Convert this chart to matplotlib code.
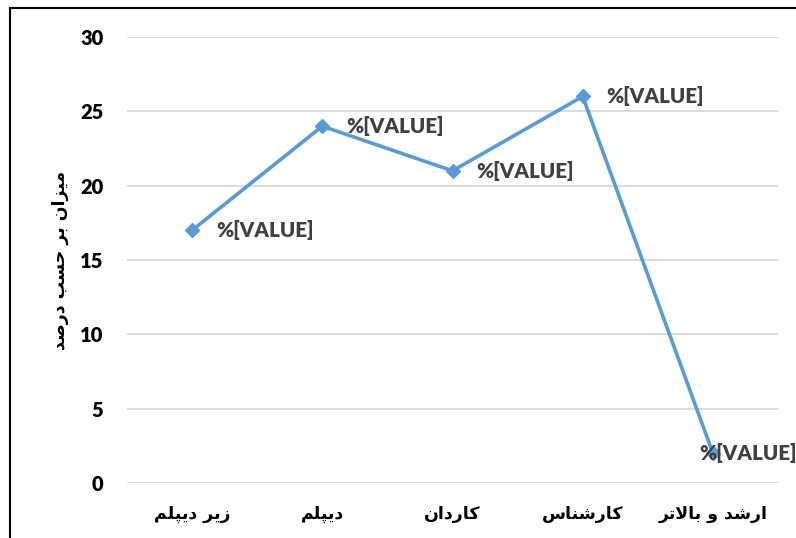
import matplotlib
matplotlib.use("Agg")
import matplotlib.pyplot as plt
from matplotlib.lines import Line2D

# ---------------- data ----------------
categories = ["زیر دیپلم", "دیپلم", "کاردان", "کارشناس", "ارشد و بالاتر"]
values = [17, 24, 21, 26, 2]
y_ticks = [0, 5, 10, 15, 20, 25, 30]
y_label = "میزان بر حسب درصد"
point_label = "%[VALUE]"

# ------------- simple Persian shaping (presentation forms + RTL) -------------
FORMS = {  # iso, fin, ini, med
    'ا': ('\uFE8D', '\uFE8E', None, None),
    'ب': ('\uFE8F', '\uFE90', '\uFE91', '\uFE92'),
    'ت': ('\uFE95', '\uFE96', '\uFE97', '\uFE98'),
    'ح': ('\uFEA1', '\uFEA2', '\uFEA3', '\uFEA4'),
    'د': ('\uFEA9', '\uFEAA', None, None),
    'ر': ('\uFEAD', '\uFEAE', None, None),
    'ز': ('\uFEAF', '\uFEB0', None, None),
    'س': ('\uFEB1', '\uFEB2', '\uFEB3', '\uFEB4'),
    'ش': ('\uFEB5', '\uFEB6', '\uFEB7', '\uFEB8'),
    'ص': ('\uFEB9', '\uFEBA', '\uFEBB', '\uFEBC'),
    'ل': ('\uFEDD', '\uFEDE', '\uFEDF', '\uFEE0'),
    'م': ('\uFEE1', '\uFEE2', '\uFEE3', '\uFEE4'),
    'ن': ('\uFEE5', '\uFEE6', '\uFEE7', '\uFEE8'),
    'و': ('\uFEED', '\uFEEE', None, None),
    'پ': ('\uFB56', '\uFB57', '\uFB58', '\uFB59'),
    'ک': ('\uFB8E', '\uFB8F', '\uFB90', '\uFB91'),
    'ی': ('\uFBFC', '\uFBFD', '\uFBFE', '\uFBFF'),
}


def dual(c):
    return c in FORMS and FORMS[c][2] is not None


def shape(text):
    out = []
    i = 0
    n = len(text)
    while i < n:
        c = text[i]
        if c not in FORMS:
            out.append(c)
            i += 1
            continue
        prev = text[i - 1] if i > 0 else ''
        prev_j = dual(prev)
        if c == 'ل' and i + 1 < n and text[i + 1] == 'ا':
            out.append('\uFEFC' if prev_j else '\uFEFB')
            i += 2
            continue
        nxt = text[i + 1] if i + 1 < n else ''
        next_j = dual(c) and nxt in FORMS
        iso, fin, ini, med = FORMS[c]
        if prev_j and next_j:
            out.append(med)
        elif prev_j:
            out.append(fin)
        elif next_j:
            out.append(ini)
        else:
            out.append(iso)
        i += 1
    return ''.join(reversed(out))


# ---------------- figure ----------------
W, H = 796, 538
fig = plt.figure(figsize=(W / 100, H / 100), dpi=100)
fig.patch.set_facecolor("white")

# outer frame (left and top edges visible)
fig.add_artist(Line2D([10 / W, 10 / W], [0, 1 - 8 / H], color="black", lw=1.5,
                      transform=fig.transFigure))
fig.add_artist(Line2D([10 / W, 1], [1 - 8 / H, 1 - 8 / H], color="black", lw=1.5,
                      transform=fig.transFigure))

ax = fig.add_axes([127 / W, 1 - 483 / H, (778 - 127) / W, (483 - 37) / H])
ax.set_facecolor("none")
x = list(range(len(categories)))

ax.plot(x, values, color="#5b9bd5", lw=2.6, marker="D", markersize=7,
        markerfacecolor="#5b9bd5", markeredgecolor="#5b9bd5", zorder=3,
        solid_joinstyle="miter")

for i, v in enumerate(values):
    dx = 24 if i < len(values) - 1 else -14
    ax.annotate(point_label, (i, v), xytext=(dx * 0.72, 0), textcoords="offset points",
                ha="left", va="center", fontsize=14.8, fontweight="heavy",
                color="#404040", family=["Lato", "DejaVu Sans"],
                annotation_clip=False, zorder=4)

ax.set_xlim(-0.5, len(categories) - 0.5)
ax.set_ylim(0, 30)
ax.set_yticks(y_ticks)
ax.set_yticklabels([str(t) for t in y_ticks], fontsize=14.5, fontweight="heavy",
                   family=["Lato", "DejaVu Sans"])
ax.grid(axis="y", color="#d9d9d9", lw=1.3)
ax.set_axisbelow(True)
ax.set_xticks(x)
ax.set_xticklabels([shape(c) for c in categories], fontsize=12.5, fontweight="bold",
                   family=["DejaVu Sans"])
ax.tick_params(axis="both", length=0)
ax.tick_params(axis="y", pad=17)
ax.tick_params(axis="x", pad=16)
for s in ax.spines.values():
    s.set_visible(False)

fig.text(60 / W, 1 - 260 / H, shape(y_label), rotation=90, ha="center", va="center",
         fontsize=12.5, fontweight="bold", family=["DejaVu Sans"])

fig.savefig("out.png", dpi=100, facecolor="white")
